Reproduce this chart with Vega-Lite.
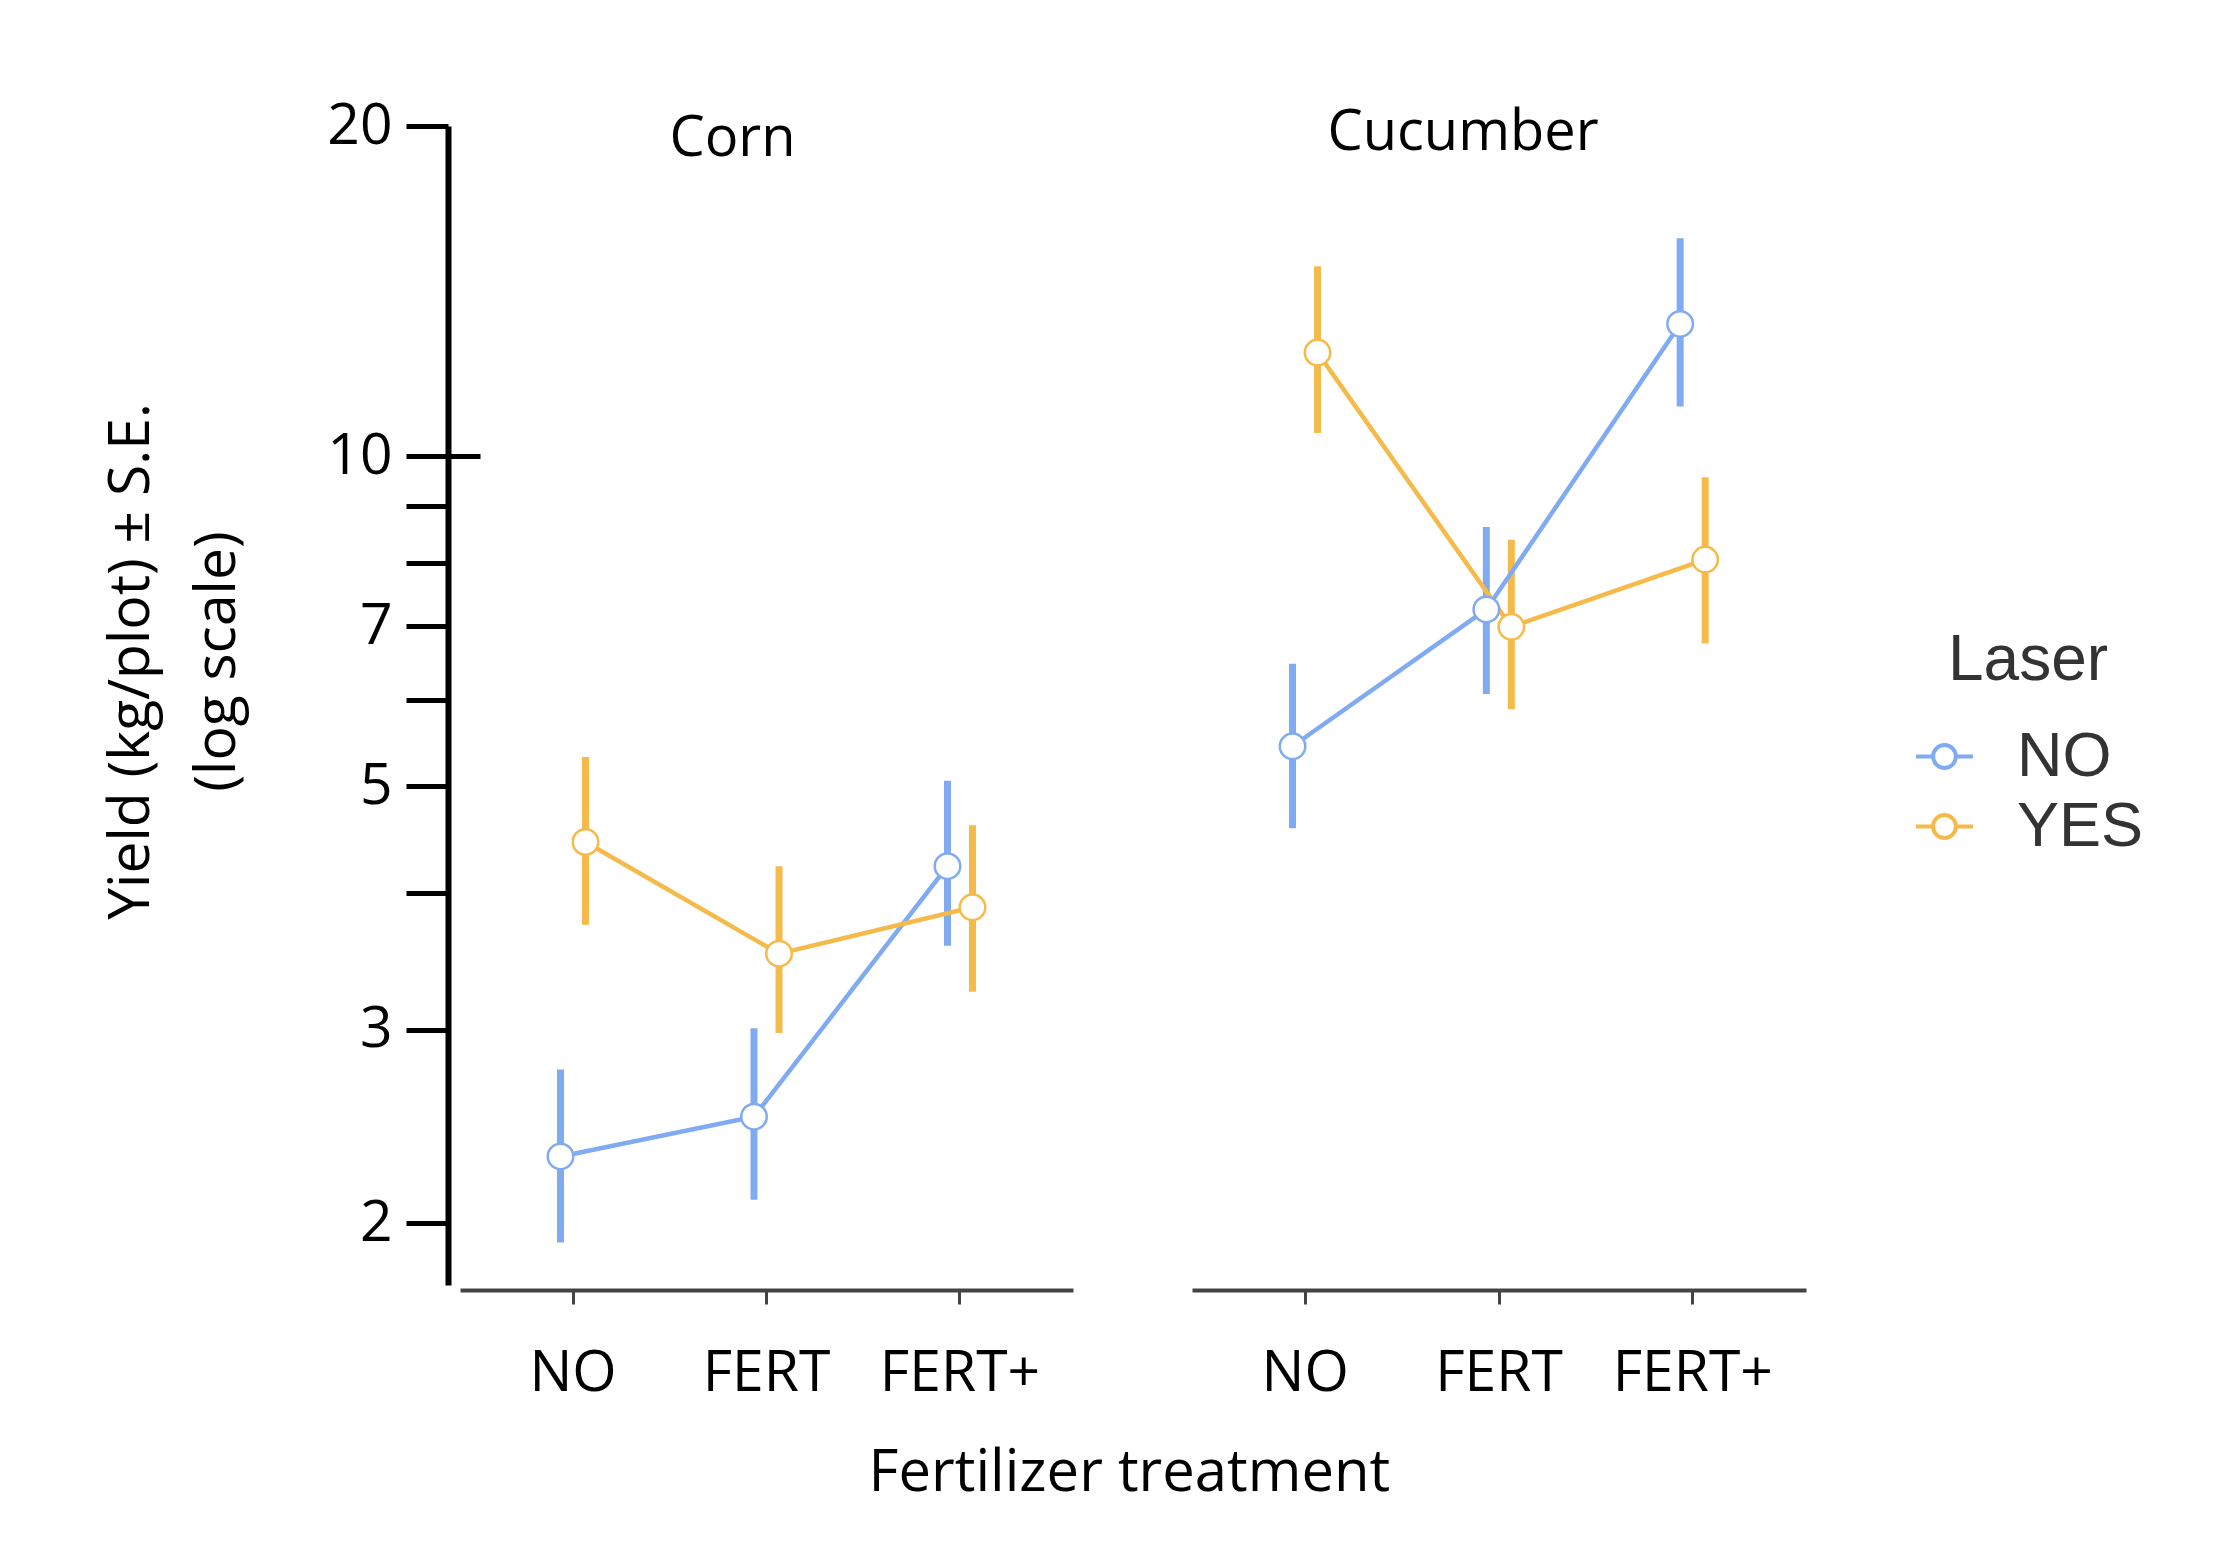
{
  "$schema": "https://vega.github.io/schema/vega-lite/v6.json",
  "background": "white",
  "padding": {"left": 102, "top": 97, "right": 20, "bottom": 20},
  "data": {"values": [
    {"crop": "Corn", "treatment": "NO", "laser": "NO", "mean": 2.30, "lo": 1.92, "hi": 2.76},
    {"crop": "Corn", "treatment": "NO", "laser": "YES", "mean": 4.45, "lo": 3.74, "hi": 5.32},
    {"crop": "Corn", "treatment": "FERT", "laser": "NO", "mean": 2.50, "lo": 2.10, "hi": 3.01},
    {"crop": "Corn", "treatment": "FERT", "laser": "YES", "mean": 3.52, "lo": 2.98, "hi": 4.23},
    {"crop": "Corn", "treatment": "FERT+", "laser": "NO", "mean": 4.23, "lo": 3.58, "hi": 5.06},
    {"crop": "Corn", "treatment": "FERT+", "laser": "YES", "mean": 3.88, "lo": 3.25, "hi": 4.61},
    {"crop": "Cucumber", "treatment": "NO", "laser": "NO", "mean": 5.44, "lo": 4.58, "hi": 6.47},
    {"crop": "Cucumber", "treatment": "NO", "laser": "YES", "mean": 12.43, "lo": 10.5, "hi": 14.9},
    {"crop": "Cucumber", "treatment": "FERT", "laser": "NO", "mean": 7.25, "lo": 6.07, "hi": 8.62},
    {"crop": "Cucumber", "treatment": "FERT", "laser": "YES", "mean": 6.99, "lo": 5.88, "hi": 8.39},
    {"crop": "Cucumber", "treatment": "FERT+", "laser": "NO", "mean": 13.2, "lo": 11.1, "hi": 15.8},
    {"crop": "Cucumber", "treatment": "FERT+", "laser": "YES", "mean": 8.05, "lo": 6.75, "hi": 9.57}
  ]},
  "title": {"text": "Fertilizer treatment", "orient": "bottom", "anchor": "middle", "fontSize": 58, "font": "Open Sans", "fontWeight": "normal", "color": "black", "offset": 44, "dx": 6},
  "spacing": 119,
  "hconcat": [
    {
      "width": 613,
      "height": 1159,
      "title": {"text": "Corn", "fontSize": 56, "font": "Open Sans", "fontWeight": "normal", "color": "black", "baseline": "alphabetic", "offset": -32, "dx": -34, "dy": 83},
      "transform": [{"filter": "datum.crop === 'Corn'"}],
      "encoding": {
        "x": {"field": "treatment", "type": "nominal", "sort": ["NO", "FERT", "FERT+"],
          "scale": {"type": "band", "paddingInner": 0, "paddingOuter": 0.084},
          "axis": {"title": null, "labelFontSize": 57, "labelFont": "Open Sans", "labelColor": "black", "labelAngle": 0, "labelPadding": 41, "domainColor": "#444", "domainWidth": 4, "tickColor": "#444", "tickWidth": 3, "tickSize": 14, "offset": 5}},
        "xOffset": {"field": "laser", "type": "nominal", "sort": ["NO", "YES"], "scale": {"type": "point", "range": [84.25, 109.25], "padding": 0}},
        "stroke": {"field": "laser", "type": "nominal",
          "scale": {"domain": ["NO", "YES"], "range": ["#80ABF3", "#F6BA4B"]},
          "legend": {"title": "Laser", "orient": "none", "legendX": 1453, "legendY": 503,
            "titleFont": "Liberation Sans", "titleFontSize": 64, "titleFontWeight": "normal", "titleColor": "#333", "titleAnchor": "middle", "titlePadding": 32,
            "labelFont": "Liberation Sans", "labelFontSize": 63, "labelColor": "#333", "labelOffset": 41, "rowPadding": 6,
            "symbolType": "M-1,0L-0.4,0M0.4,0L1,0M-0.4,0A0.4,0.4,0,1,1,0.4,0A0.4,0.4,0,1,1,-0.4,0",
            "symbolSize": 3249, "symbolStrokeWidth": 4, "symbolFillColor": "white"}}
      },
      "layer": [
        {
          "mark": {"type": "rule", "strokeWidth": 7},
          "encoding": {
            "y": {"field": "lo", "type": "quantitative",
              "scale": {"type": "log", "domain": [1.756, 20], "nice": false, "zero": false},
              "axis": {"title": ["Yield (kg/plot) ± S.E.", "(log scale)"], "values": [2, 3, 4, 5, 6, 7, 8, 9, 10, 20],
                "format": "~g",
                "labelExpr": "datum.value == 4 || datum.value == 6 || datum.value == 8 || datum.value == 9 ? '' : datum.label",
                "labelFontSize": 57, "labelFont": "Open Sans", "labelColor": "black", "labelPadding": 14,
                "tickSize": 42, "tickWidth": 5, "tickColor": "black", "domainWidth": 6, "domainColor": "black", "offset": 12,
                "titleFont": "Open Sans", "titleFontSize": 57, "titleFontWeight": "normal", "titleColor": "black", "titleLineHeight": 86, "titlePadding": 80, "titleY": 535}},
            "y2": {"field": "hi"}
          }
        },
        {
          "mark": {"type": "line", "strokeWidth": 4.5},
          "encoding": {
            "y": {"field": "mean", "type": "quantitative",
              "axis": {"orient": "left", "values": [10], "labels": false, "domain": false, "title": null, "tickSize": 32, "tickWidth": 5, "tickColor": "black", "offset": -20}}
          }
        },
        {
          "mark": {"type": "point", "filled": false, "size": 650, "strokeWidth": 2.5, "opacity": 1},
          "encoding": {
            "y": {"field": "mean", "type": "quantitative", "axis": null},
            "fill": {"value": "white"}
          }
        }
      ],
      "resolve": {"axis": {"y": "independent"}}
    },
    {
      "width": 614,
      "height": 1159,
      "title": {"text": "Cucumber", "fontSize": 56, "font": "Open Sans", "fontWeight": "normal", "color": "black", "baseline": "alphabetic", "offset": -25, "dx": -36, "dy": 55},
      "transform": [{"filter": "datum.crop === 'Cucumber'"}],
      "encoding": {
        "x": {"field": "treatment", "type": "nominal", "sort": ["NO", "FERT", "FERT+"],
          "scale": {"type": "band", "paddingInner": 0, "paddingOuter": 0.084},
          "axis": {"title": null, "labelFontSize": 57, "labelFont": "Open Sans", "labelColor": "black", "labelAngle": 0, "labelPadding": 41, "domainColor": "#444", "domainWidth": 4, "tickColor": "#444", "tickWidth": 3, "tickSize": 14, "offset": 5}},
        "xOffset": {"field": "laser", "type": "nominal", "sort": ["NO", "YES"], "scale": {"type": "point", "range": [84.25, 109.25], "padding": 0}},
        "stroke": {"field": "laser", "type": "nominal"}
      },
      "layer": [
        {
          "mark": {"type": "rule", "strokeWidth": 7},
          "encoding": {
            "y": {"field": "lo", "type": "quantitative",
              "scale": {"type": "log", "domain": [1.756, 20], "nice": false, "zero": false},
              "axis": null},
            "y2": {"field": "hi"}
          }
        },
        {
          "mark": {"type": "line", "strokeWidth": 4.5},
          "encoding": {"y": {"field": "mean", "type": "quantitative", "axis": null}}
        },
        {
          "mark": {"type": "point", "filled": false, "size": 650, "strokeWidth": 2.5, "opacity": 1},
          "encoding": {
            "y": {"field": "mean", "type": "quantitative", "axis": null},
            "fill": {"value": "white"}
          }
        }
      ]
    }
  ],
  "config": {"view": {"stroke": null}, "font": "Open Sans", "axis": {"grid": false}}
}
